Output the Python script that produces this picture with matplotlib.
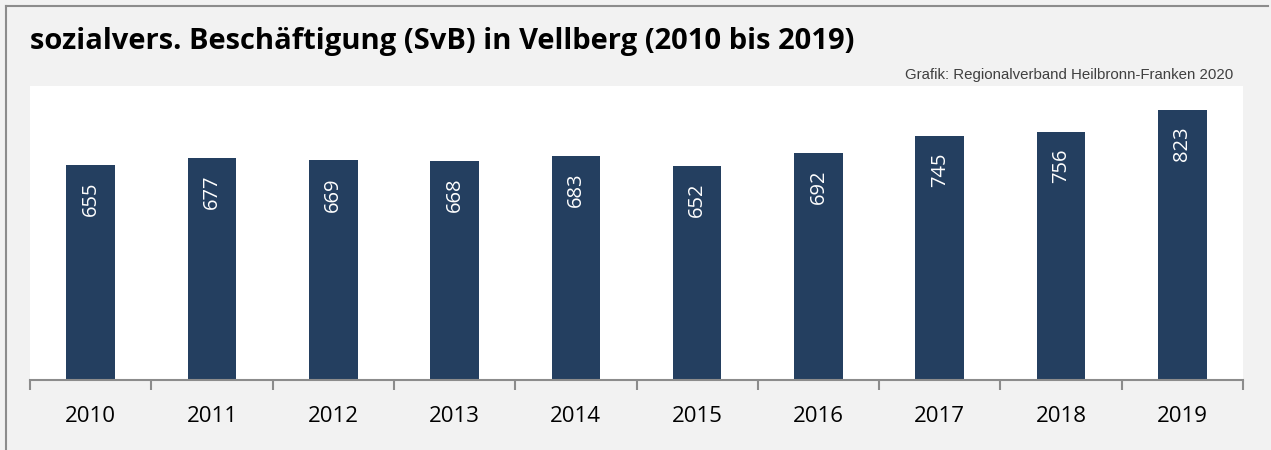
import numpy as np
import matplotlib.pyplot as plt

years = ['2010', '2011', '2012', '2013', '2014', '2015', '2016', '2017', '2018', '2019']
beschaeftigte = [655, 677, 669, 668, 683, 652, 692, 745, 756, 823]

W, H = 1271, 450
fig = plt.figure(figsize=(W / 100, H / 100), dpi=100)
fig.patch.set_facecolor('#f2f2f2')

# grey frame lines (left and top)
fig.add_artist(plt.Line2D([6 / W, 6 / W], [0, 1 - 6 / H], color='#8c8c8c', lw=1.5))
fig.add_artist(plt.Line2D([6 / W, 1268 / W], [1 - 6 / H, 1 - 6 / H], color='#8c8c8c', lw=1.5))

ax = fig.add_axes([30 / W, 1 - 380 / H, (1243 - 30) / W, (380 - 86) / H])
ax.set_facecolor('white')

x = np.arange(len(years))
bars = ax.bar(x, beschaeftigte, width=0.4, color='#243f60', zorder=2)
for xi, v in zip(x, beschaeftigte):
    ax.annotate(str(v), (xi, v), xytext=(0, -12), textcoords='offset points',
                rotation=90, ha='center', va='top', color='white',
                fontsize=14.5, family='Open Sans')

ax.set_xlim(-0.5, len(years) - 0.5)
ax.set_ylim(0, 896)
ax.set_yticks([])
for s in ['top', 'right', 'left']:
    ax.spines[s].set_visible(False)
ax.spines['bottom'].set_color('#8c8c8c')
ax.spines['bottom'].set_linewidth(1.5)

ax.set_xticks(np.arange(-0.5, len(years), 1.0))
ax.set_xticklabels([])
ax.tick_params(axis='x', length=7, width=1.5, color='#8c8c8c')
ax.set_xticks(x, minor=True)
ax.set_xticklabels(years, minor=True, fontsize=16, family='Open Sans')
ax.tick_params(axis='x', which='minor', length=0, pad=19)

fig.text(30 / W, 1 - 42 / H, 'sozialvers. Beschäftigung (SvB) in Vellberg (2010 bis 2019)',
         fontsize=21, fontweight='bold', family='Open Sans', va='center', ha='left')
fig.text(1233 / W, 1 - 75 / H, 'Grafik: Regionalverband Heilbronn-Franken 2020',
         fontsize=10.8, family='Liberation Sans', color='#404040', va='center', ha='right')

fig.savefig('out.png', dpi=100, facecolor=fig.get_facecolor())
